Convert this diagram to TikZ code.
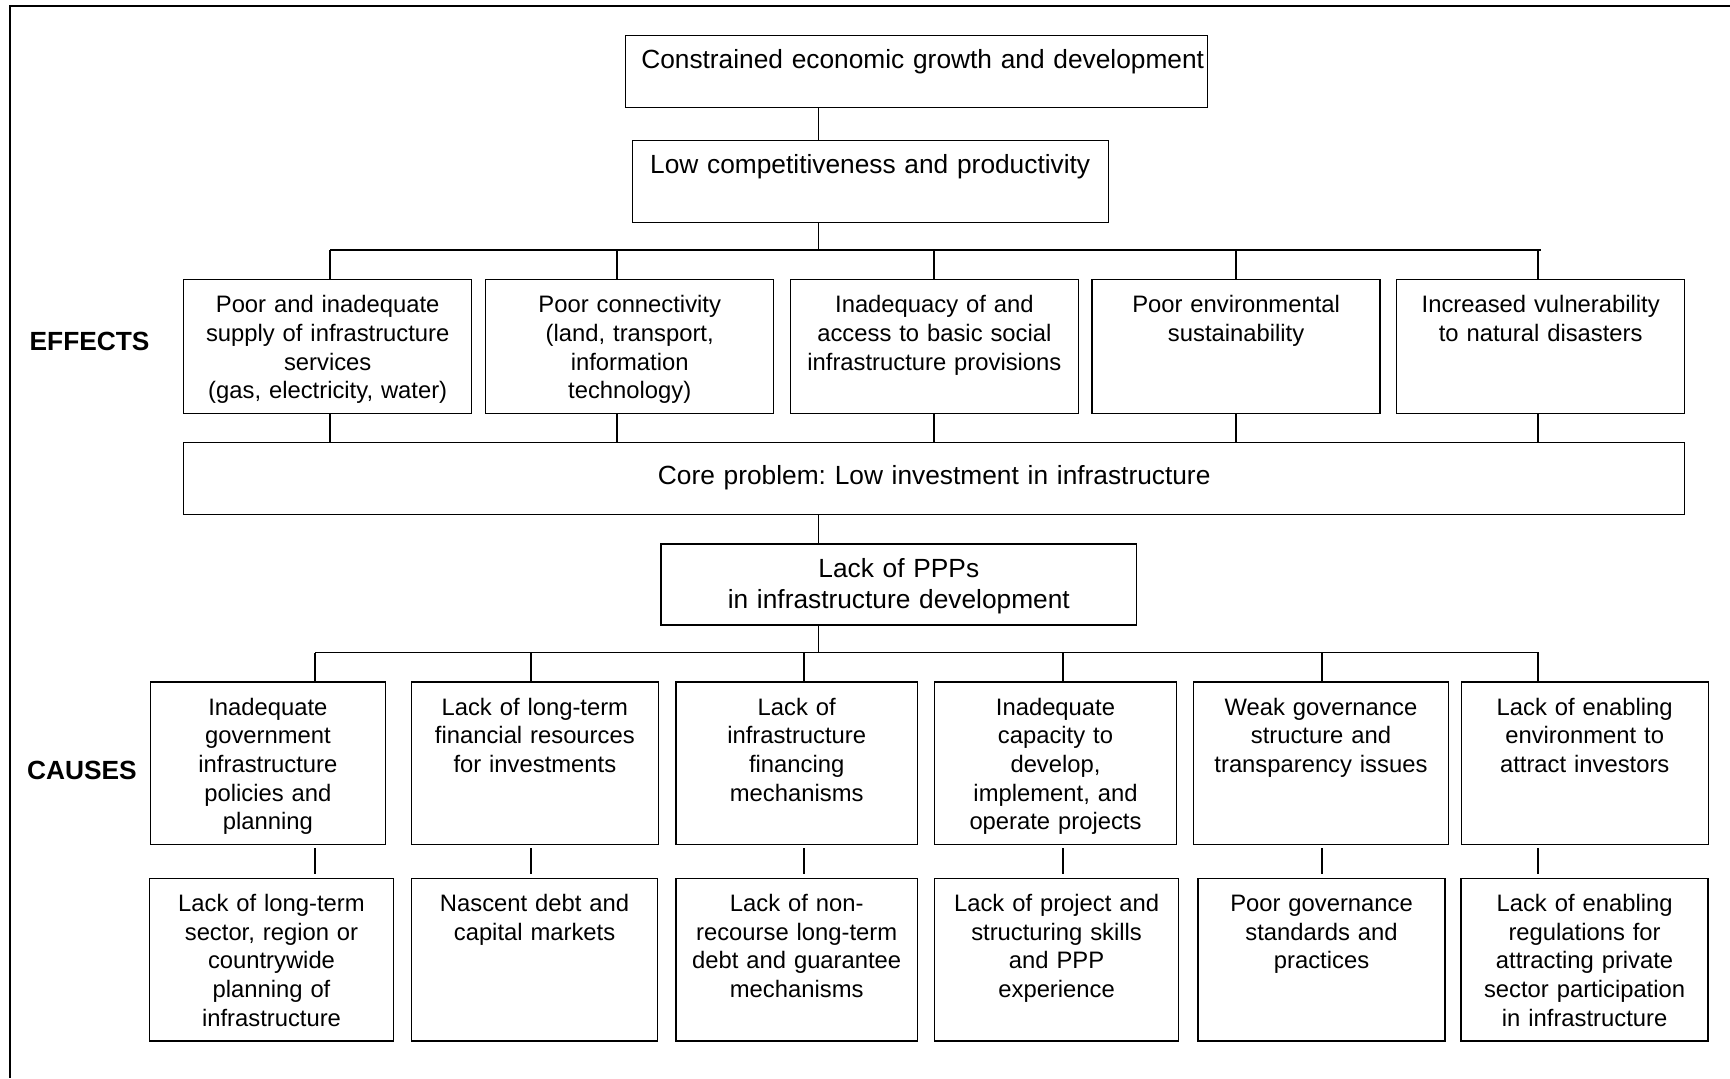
\documentclass[tikz,border=0pt]{standalone}
\usepackage{fontspec}
\setmainfont{Liberation Sans}
\frenchspacing
\newcommand\headfont{\fontsize{13.15pt}{15.8pt}\selectfont}
\newcommand\cellfont{\fontsize{11.9pt}{14.35pt}\selectfont}

\begin{document}
\begin{tikzpicture}[x=0.5pt,y=-0.5pt,line width=0.7pt,
    cell/.style 2 args={draw,anchor=north west,inner sep=0pt,align=center,font=\cellfont,
      text width=#1,text height=16.5pt,text depth=#2-16.5pt},
    head/.style={font=\headfont},
    side/.style={font=\headfont\bfseries}]
  \useasboundingbox (0,0) rectangle (1730,1078);
  \draw (1730,6) -- (10,6) -- (10,1078);
  % upper chain
  \node[cell={291pt}{36pt},head] (growth) at (625,35) {\hspace*{6pt}Constrained economic growth and development};
  \node[cell={238pt}{41pt},head] (compet) at (631.5,140) {Low competitiveness and productivity};
  \node[side] (effects) at (89.6,341) {EFFECTS};
  \node[cell={144pt}{66.75pt}] (e1) at (183,279) {Poor and inadequate\\supply of infrastructure\\services\\(gas, electricity, water)};
  \node[cell={144pt}{66.75pt}] (e2) at (485,279) {Poor connectivity\\(land, transport,\\information\\technology)};
  \node[cell={144pt}{66.75pt}] (e3) at (789.7,279) {Inadequacy of and\\access to basic social\\infrastructure provisions};
  \node[cell={144pt}{66.75pt}] (e4) at (1091.4,279) {Poor environmental\\sustainability};
  \node[cell={144pt}{66.75pt}] (e5) at (1396,279) {Increased vulnerability\\to natural disasters};
  \node[cell={750.5pt}{36pt},head,text height=21pt,text depth=15pt] (core) at (183,442) {Core problem: Low investment in infrastructure};
  % lower chain
  \node[cell={237.7pt}{40.5pt},head] (ppp) at (660.4,543.3) {Lack of PPPs\\in infrastructure development};
  \node[side] (causes) at (82,770.5) {CAUSES};
  \node[cell={117.4pt}{81.3pt}] (c1) at (149.8,681.3) {Inadequate\\government\\infrastructure\\policies and\\planning};
  \node[cell={123.45pt}{81.3pt}] (c2) at (410.7,681.3) {Lack of long-term\\financial resources\\for investments};
  \node[cell={120.6pt}{81.3pt}] (c3) at (675.4,681.3) {Lack of\\infrastructure\\financing\\mechanisms};
  \node[cell={121pt}{81.3pt}] (c4) at (933.8,681.3) {Inadequate\\capacity to\\develop,\\implement, and\\operate projects};
  \node[cell={127.25pt}{81.3pt}] (c5) at (1193,681.3) {Weak governance\\structure and\\transparency issues};
  \node[cell={123.5pt}{81.3pt}] (c6) at (1460.5,681.3) {Lack of enabling\\environment to\\attract investors};
  \node[cell={122.1pt}{81.25pt}] (l1) at (148.7,877.8) {Lack of long-term\\sector, region or\\countrywide\\planning of\\infrastructure};
  \node[cell={123.15pt}{81.25pt}] (l2) at (410.7,877.8) {Nascent debt and\\capital markets};
  \node[cell={120.6pt}{81.25pt}] (l3) at (675.4,877.8) {Lack of non-\\recourse long-term\\debt and guarantee\\mechanisms};
  \node[cell={122.1pt}{81.25pt}] (l4) at (933.8,877.8) {Lack of project and\\structuring skills\\and PPP\\experience};
  \node[cell={123.45pt}{81.25pt}] (l5) at (1197.4,877.8) {Poor governance\\standards and\\practices};
  \node[cell={123.5pt}{81.25pt}] (l6) at (1460.4,877.8) {Lack of enabling\\regulations for\\attracting private\\sector participation\\in infrastructure};
  % branch points
  \coordinate (spine) at (818.5,0);
  \coordinate (ed1) at (330,250);
  \coordinate (ed2) at (617,250);
  \coordinate (ed3) at (934,250);
  \coordinate (ed4) at (1236,250);
  \coordinate (ed5) at (1538,250);
  \coordinate (cd1) at (315,652.5);
  \coordinate (cd2) at (531,652.5);
  \coordinate (cd3) at (804,652.5);
  \coordinate (cd4) at (1063,652.5);
  \coordinate (cd5) at (1322,652.5);
  \coordinate (cd6) at (1538,652.5);
  % connectors
  \draw (growth.south -| spine) -- (compet.north -| spine);
  \draw (compet.south -| spine) -- (spine |- ed1);
  \draw (ed1) -- ([xshift=1.5pt]ed5);
  \foreach \i in {1,...,5}{
    \draw (ed\i) -- (ed\i |- e\i.north);
    \draw (e\i.south -| ed\i) -- (core.north -| ed\i);
  }
  \draw (core.south -| spine) -- (ppp.north -| spine);
  \draw (ppp.south -| spine) -- (spine |- cd1);
  \draw (cd1) -- ([xshift=0.5pt]cd6);
  \foreach \i in {1,...,6}{
    \draw (cd\i) -- (cd\i |- c\i.north);
    \draw[shorten <=1.5pt,shorten >=2pt] (c\i.south -| cd\i) -- (l\i.north -| cd\i);
  }
\end{tikzpicture}
\end{document}
